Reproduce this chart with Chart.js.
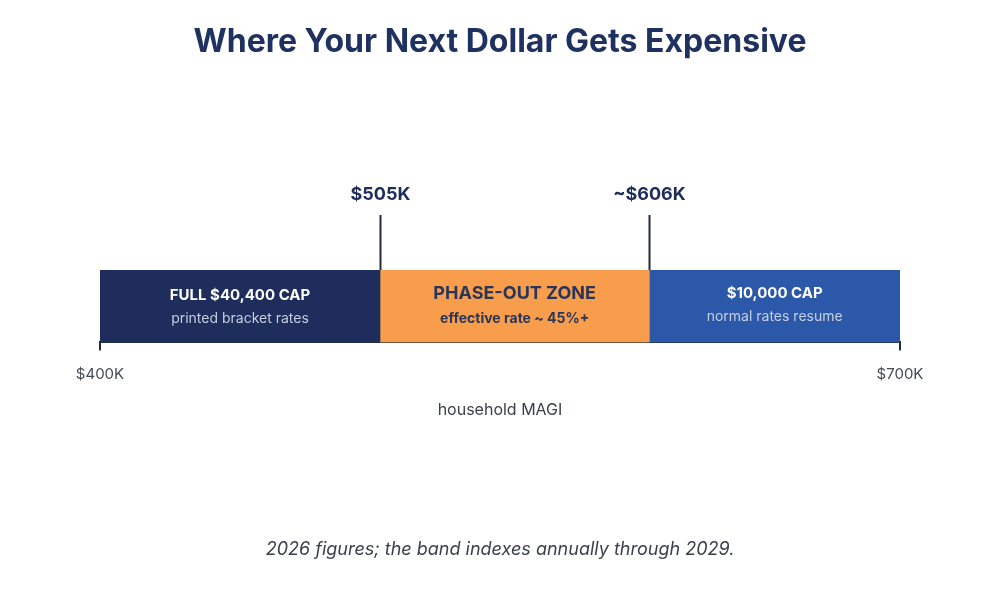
<!DOCTYPE html>
<html>
<head>
<meta charset="utf-8">
<script src="https://cdn.jsdelivr.net/npm/chart.js@4.4.1/dist/chart.umd.min.js"></script>
<style>
html,body{margin:0;padding:0;background:#fff;}
#wrap{width:1000px;height:600px;}
</style>
</head>
<body>
<div id="wrap"><canvas id="c" width="1000" height="600"></canvas></div>
<script>
const FONT = "Inter, 'Noto Sans', sans-serif";
const categories = ["household MAGI"];
const segmentNames = ["FULL $40,400 CAP", "PHASE-OUT ZONE", "$10,000 CAP"];
const segmentNotes = ["printed bracket rates", "effective rate ~ 45%+", "normal rates resume"];
const segmentStarts = [400, 505, 606];
const segmentEnds = [505, 606, 700];
const segmentColors = ["#1f2d5c", "#f79d4b", "#2b58a8"];
const markerValues = [505, 606];
const markerLabels = ["$505K", "~$606K"];
const tickValues = [400, 700];
const tickLabels = ["$400K", "$700K"];

const datasets = segmentNames.map((n, i) => ({
  label: n,
  data: [[segmentStarts[i], segmentEnds[i]]],
  backgroundColor: segmentColors[i],
  borderWidth: 0,
  borderSkipped: false,
  barPercentage: 1,
  categoryPercentage: 1,
  grouped: false
}));

const textStyles = [
  {title: "#ffffff", note: "#c5cce0", tSize: 15, nSize: 14, nBold: false, tY: -10.5, nY: 12.5},
  {title: "#2a3558", note: "#2a3558", tSize: 18, nSize: 14, nBold: true, tY: -13, nY: 12.5},
  {title: "#ffffff", note: "#c5cfe6", tSize: 15, nSize: 14, nBold: false, tY: -12.5, nY: 10.5}
];

const overlay = {
  id: 'overlay',
  afterDatasetsDraw(chart) {
    const ctx = chart.ctx;
    const x = chart.scales.x;
    const area = chart.chartArea;
    const mid = (area.top + area.bottom) / 2;
    ctx.save();
    ctx.textAlign = 'center';
    ctx.textBaseline = 'middle';
    segmentNames.forEach((n, i) => {
      const cx = (x.getPixelForValue(segmentStarts[i]) + x.getPixelForValue(segmentEnds[i])) / 2;
      const s = textStyles[i];
      ctx.fillStyle = s.title;
      ctx.font = "700 " + s.tSize + "px " + FONT;
      ctx.fillText(n, cx, mid + s.tY);
      ctx.fillStyle = s.note;
      ctx.font = (s.nBold ? "700 " : "400 ") + s.nSize + "px " + FONT;
      ctx.fillText(segmentNotes[i], cx, mid + s.nY);
    });
    markerValues.forEach((v, i) => {
      const px = Math.round(x.getPixelForValue(v)) + 0.5;
      ctx.strokeStyle = "#222a3a";
      ctx.lineWidth = 2;
      ctx.beginPath();
      ctx.moveTo(px, area.top - 55);
      ctx.lineTo(px, area.top);
      ctx.stroke();
      ctx.fillStyle = "#1f2d5c";
      ctx.font = "700 18px " + FONT;
      ctx.fillText(markerLabels[i], px, area.top - 75);
    });
    ctx.restore();
  }
};

new Chart(document.getElementById('c'), {
  type: 'bar',
  data: {labels: categories, datasets: datasets},
  options: {
    indexAxis: 'y',
    responsive: false,
    animation: false,
    devicePixelRatio: 1,
    layout: {padding: {left: 100, right: 100, top: 0, bottom: 0}},
    plugins: {
      legend: {display: false},
      tooltip: {enabled: false},
      title: {
        display: true,
        text: "Where Your Next Dollar Gets Expensive",
        color: "#1f3160",
        font: {family: FONT, size: 32, weight: '700', lineHeight: 1.2},
        padding: {top: 23, bottom: 208.6}
      },
      subtitle: {
        display: true,
        position: 'bottom',
        text: "2026 figures; the band indexes annually through 2029.",
        color: "#3a3f4a",
        font: {family: FONT, size: 18, style: 'italic', lineHeight: 1.2},
        padding: {top: 0, bottom: 39.2}
      }
    },
    scales: {
      y: {display: false},
      x: {
        type: 'linear',
        min: 400,
        max: 700,
        afterBuildTicks(scale) { scale.ticks = tickValues.map(v => ({value: v})); },
        grid: {drawOnChartArea: false, drawTicks: true, tickLength: 8, color: "#222a3a", lineWidth: 2},
        border: {display: true, color: "#222a3a", width: 2},
        ticks: {
          padding: 15,
          color: "#444a55",
          font: {family: FONT, size: 15},
          autoSkip: false,
          maxRotation: 0,
          callback(v) { const i = tickValues.indexOf(v); return i >= 0 ? tickLabels[i] : ''; }
        },
        title: {
          display: true,
          text: "household MAGI",
          color: "#3a3f4a",
          font: {family: FONT, size: 16},
          padding: {top: 2, bottom: 119.6}
        }
      }
    }
  },
  plugins: [overlay]
});
</script>
</body>
</html>
